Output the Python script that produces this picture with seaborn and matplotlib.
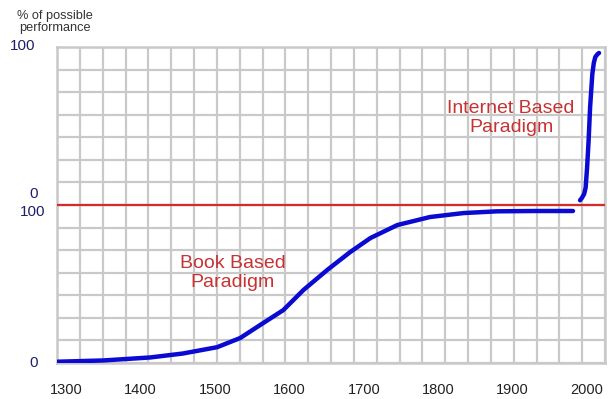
import numpy as np
import pandas as pd
import seaborn as sns
import matplotlib.pyplot as plt
from matplotlib import transforms

# 数据：两条 S 形曲线（上半区为互联网范式，下半区为书本范式）
book_years = [1288, 1350, 1413, 1457, 1503, 1534, 1565, 1592, 1619, 1651,
              1682, 1709, 1745, 1789, 1834, 1879, 1930, 1981]
book_pct = [0.8, 1.6, 3.5, 6.0, 10.0, 15.8, 25.3, 33.5, 46.2, 58.9,
            70.3, 79.1, 87.3, 92.4, 94.9, 96.0, 96.2, 96.2]

net_years = [1990.5, 1993, 1996, 1998, 2000, 2002, 2004, 2007, 2009, 2011, 2014, 2016]
net_pct = [3, 4.5, 7, 11, 24, 41, 62, 83, 90, 93.7, 95.5, 96.2]

year_ticks = [1300, 1400, 1500, 1600, 1700, 1800, 1900, 2000]
x_range = (1288, 2024)
panel_offset = 100   # 上半区的 0 对应整体坐标 100

sns.set_style("white")
plt.rcParams['font.family'] = ['Liberation Sans', 'DejaVu Sans']

book = pd.DataFrame({'year': book_years, 'pct': book_pct})
net = pd.DataFrame({'year': net_years, 'pct': np.array(net_pct) + panel_offset})

fig = plt.figure(figsize=(6.08, 3.99), dpi=100)
ax = fig.add_axes([57 / 608, 1 - 363 / 399, 548 / 608, 316 / 399])

grid_c = '#c9c9c9'
# 网格线（次刻度），与年份刻度不对齐
ax.set_xticks(np.linspace(x_range[0], x_range[1], 25), minor=True)
ax.set_yticks(np.linspace(0, 2 * panel_offset, 15), minor=True)
ax.grid(which='minor', color=grid_c, lw=1.6)
ax.grid(which='major', visible=False)
ax.set_xticks(year_ticks)
ax.set_yticks([])
ax.tick_params(axis='x', which='minor', length=14, width=1.6, color=grid_c, direction='out')
ax.tick_params(axis='y', which='minor', length=8.5, width=1.6, color=grid_c, direction='out')
ax.tick_params(axis='x', which='major', length=0, pad=14.5, labelsize=10.5, labelcolor='#222222')
ax.set_axisbelow(True)
for s in ax.spines.values():
    s.set_color(grid_c)
    s.set_linewidth(1.8)

ax.axhline(panel_offset, color='#d42b2b', lw=1.6, zorder=3)

blue = '#0a0ad2'
sns.lineplot(data=book, x='year', y='pct', ax=ax, color=blue, lw=3.2,
             solid_capstyle='round', zorder=4)
sns.lineplot(data=net, x='year', y='pct', ax=ax, color=blue, lw=3.2,
             solid_capstyle='round', zorder=4)

ax.set_xlim(*x_range)
ax.set_ylim(0, 2 * panel_offset)
ax.set_xlabel('')
ax.set_ylabel('')

red = '#c83232'
ax.text(1524, 57, 'Book Based\nParadigm', color=red, fontsize=14,
        ha='center', va='center', linespacing=1.15)
ax.text(1898, 155, 'Internet Based\nParadigm', color=red, fontsize=14,
        ha='center', va='center', linespacing=1.15)

# 纵轴标签（上下两段刻度）
navy = '#1f1f6b'
tr = transforms.blended_transform_factory(ax.transAxes, ax.transData)
ylabels = [(0, '0', -19, 0), (panel_offset, '100', -12, -7),
           (panel_offset, '0', -19, 11), (2 * panel_offset, '100', -22, 1)]
for yv, s, dx, dy in ylabels:
    ax.annotate(s, xy=(0, yv), xycoords=tr, xytext=(dx, dy), textcoords='offset pixels',
                ha='right', va='center', fontsize=11, color=navy)

fig.text(55 / 608, 1 - 22 / 399, '% of possible\nperformance', ha='center', va='center',
         fontsize=9.2, color='#333333', linespacing=1.1)

fig.savefig('out.png', dpi=100)
